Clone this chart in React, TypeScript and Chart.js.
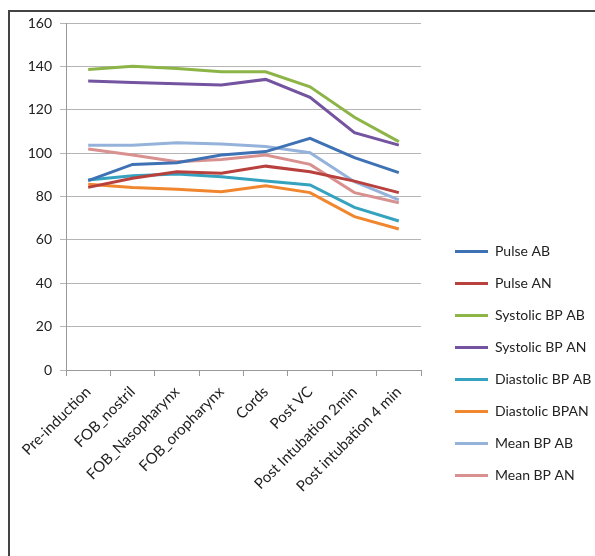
import React, { useEffect, useRef } from 'react';
import { Chart, registerables } from 'chart.js';

Chart.register(...registerables);

const categories = [
  'Pre-induction',
  'FOB_nostril',
  'FOB_Nasopharynx',
  'FOB_oropharynx',
  'Cords',
  'Post VC',
  'Post Intubation 2min',
  'Post intubation 4 min',
];

const pulseAB = [87.3, 94.8, 95.6, 99.1, 100.7, 106.8, 97.9, 91.0];
const pulseAN = [84.2, 88.4, 91.4, 90.7, 94.0, 91.4, 87.1, 81.8];
const systolicAB = [138.6, 140.0, 139.0, 137.5, 137.5, 130.6, 116.5, 105.3];
const systolicAN = [133.2, 132.6, 132.0, 131.4, 134.0, 125.7, 109.4, 103.7];
const diastolicAB = [87.6, 89.6, 90.4, 89.1, 87.1, 85.3, 75.0, 68.7];
const diastolicAN = [85.6, 84.2, 83.4, 82.2, 85.0, 81.8, 70.7, 65.0];
const meanAB = [103.6, 103.6, 104.8, 104.2, 103.0, 100.2, 86.8, 78.4];
const meanAN = [101.9, 99.1, 96.0, 97.1, 99.1, 94.8, 81.8, 77.1];

const yTicks = [0, 20, 40, 60, 80, 100, 120, 140, 160];

const seriesLabels = [
  'Pulse AB',
  'Pulse AN',
  'Systolic BP AB',
  'Systolic BP AN',
  'Diastolic BP AB',
  'Diastolic BPAN',
  'Mean BP AB',
  'Mean BP AN',
];
const seriesValues = [pulseAB, pulseAN, systolicAB, systolicAN, diastolicAB, diastolicAN, meanAB, meanAN];
const seriesColors = ['#3F72B5', '#B8403D', '#8DB447', '#7453A0', '#35A3BF', '#F0862E', '#95B2DB', '#D99190'];

const FONT = 'Lato, "Open Sans", sans-serif';

const placeLegend = {
  id: 'placeLegend',
  afterLayout(chart: any) {
    const l = chart.legend;
    if (l) {
      const w = l.width;
      l.left = 427;
      l.right = 427 + w;
      l.top += 74;
      l.bottom += 74;
    }
  },
};

export default function App() {
  const ref = useRef<HTMLCanvasElement | null>(null);

  useEffect(() => {
    if (!ref.current) return;
    const chart = new Chart(ref.current, {
      type: 'line',
      data: {
        labels: categories,
        datasets: seriesLabels.map((label, i) => ({
          label,
          data: seriesValues[i],
          borderColor: seriesColors[i],
          backgroundColor: seriesColors[i],
          borderWidth: 3,
          pointRadius: 0,
          tension: 0,
          fill: false,
        })),
      },
      options: {
        responsive: false,
        animation: false,
        layout: { padding: { top: 11, left: 0, right: 0, bottom: 0 } },
        plugins: {
          tooltip: { enabled: false },
          legend: {
            position: 'right',
            maxWidth: 220,
            labels: {
              boxWidth: 33,
              boxHeight: 3,
              padding: 18,
              color: '#222',
              font: { family: FONT, size: 14 },
              generateLabels: (c: any) =>
                c.data.datasets.map((d: any, i: number) => ({
                  text: d.label,
                  fillStyle: d.borderColor,
                  strokeStyle: d.borderColor,
                  lineWidth: 0,
                  hidden: false,
                  datasetIndex: i,
                  fontColor: '#222',
                })),
            },
          },
        },
        scales: {
          x: {
            offset: true,
            grid: {
              offset: true,
              drawOnChartArea: false,
              drawTicks: true,
              tickLength: 6,
              color: '#999',
            },
            border: { color: '#999', width: 1 },
            ticks: {
              maxRotation: 45,
              minRotation: 45,
              autoSkip: false,
              color: '#222',
              padding: 7,
              font: { family: FONT, size: 15 },
            },
            afterFit: (s: any) => {
              s.height = 186;
              s.paddingLeft = 0;
              s.paddingRight = 174;
            },
          },
          y: {
            min: 0,
            max: 160,
            afterBuildTicks: (s: any) => {
              s.ticks = yTicks.map((v) => ({ value: v }));
            },
            grid: { color: '#b5b5b5', lineWidth: 1, tickLength: 6 },
            border: { color: '#999', width: 1 },
            ticks: {
              color: '#222',
              padding: 8,
              font: { family: FONT, size: 14 },
            },
            afterFit: (s: any) => {
              s.width = 56;
              s.paddingTop = 0;
              s.paddingBottom = 0;
            },
          },
        },
      },
      plugins: [placeLegend],
    });
    return () => chart.destroy();
  }, []);

  return (
    <div
      style={{
        position: 'absolute',
        left: 8,
        top: 10,
        width: 587,
        height: 546,
        borderTop: '2px solid #444',
        borderLeft: '2px solid #444',
        boxSizing: 'border-box',
        background: '#fff',
      }}
    >
      <canvas ref={ref} width={585} height={544} style={{ display: 'block' }} />
    </div>
  );
}
